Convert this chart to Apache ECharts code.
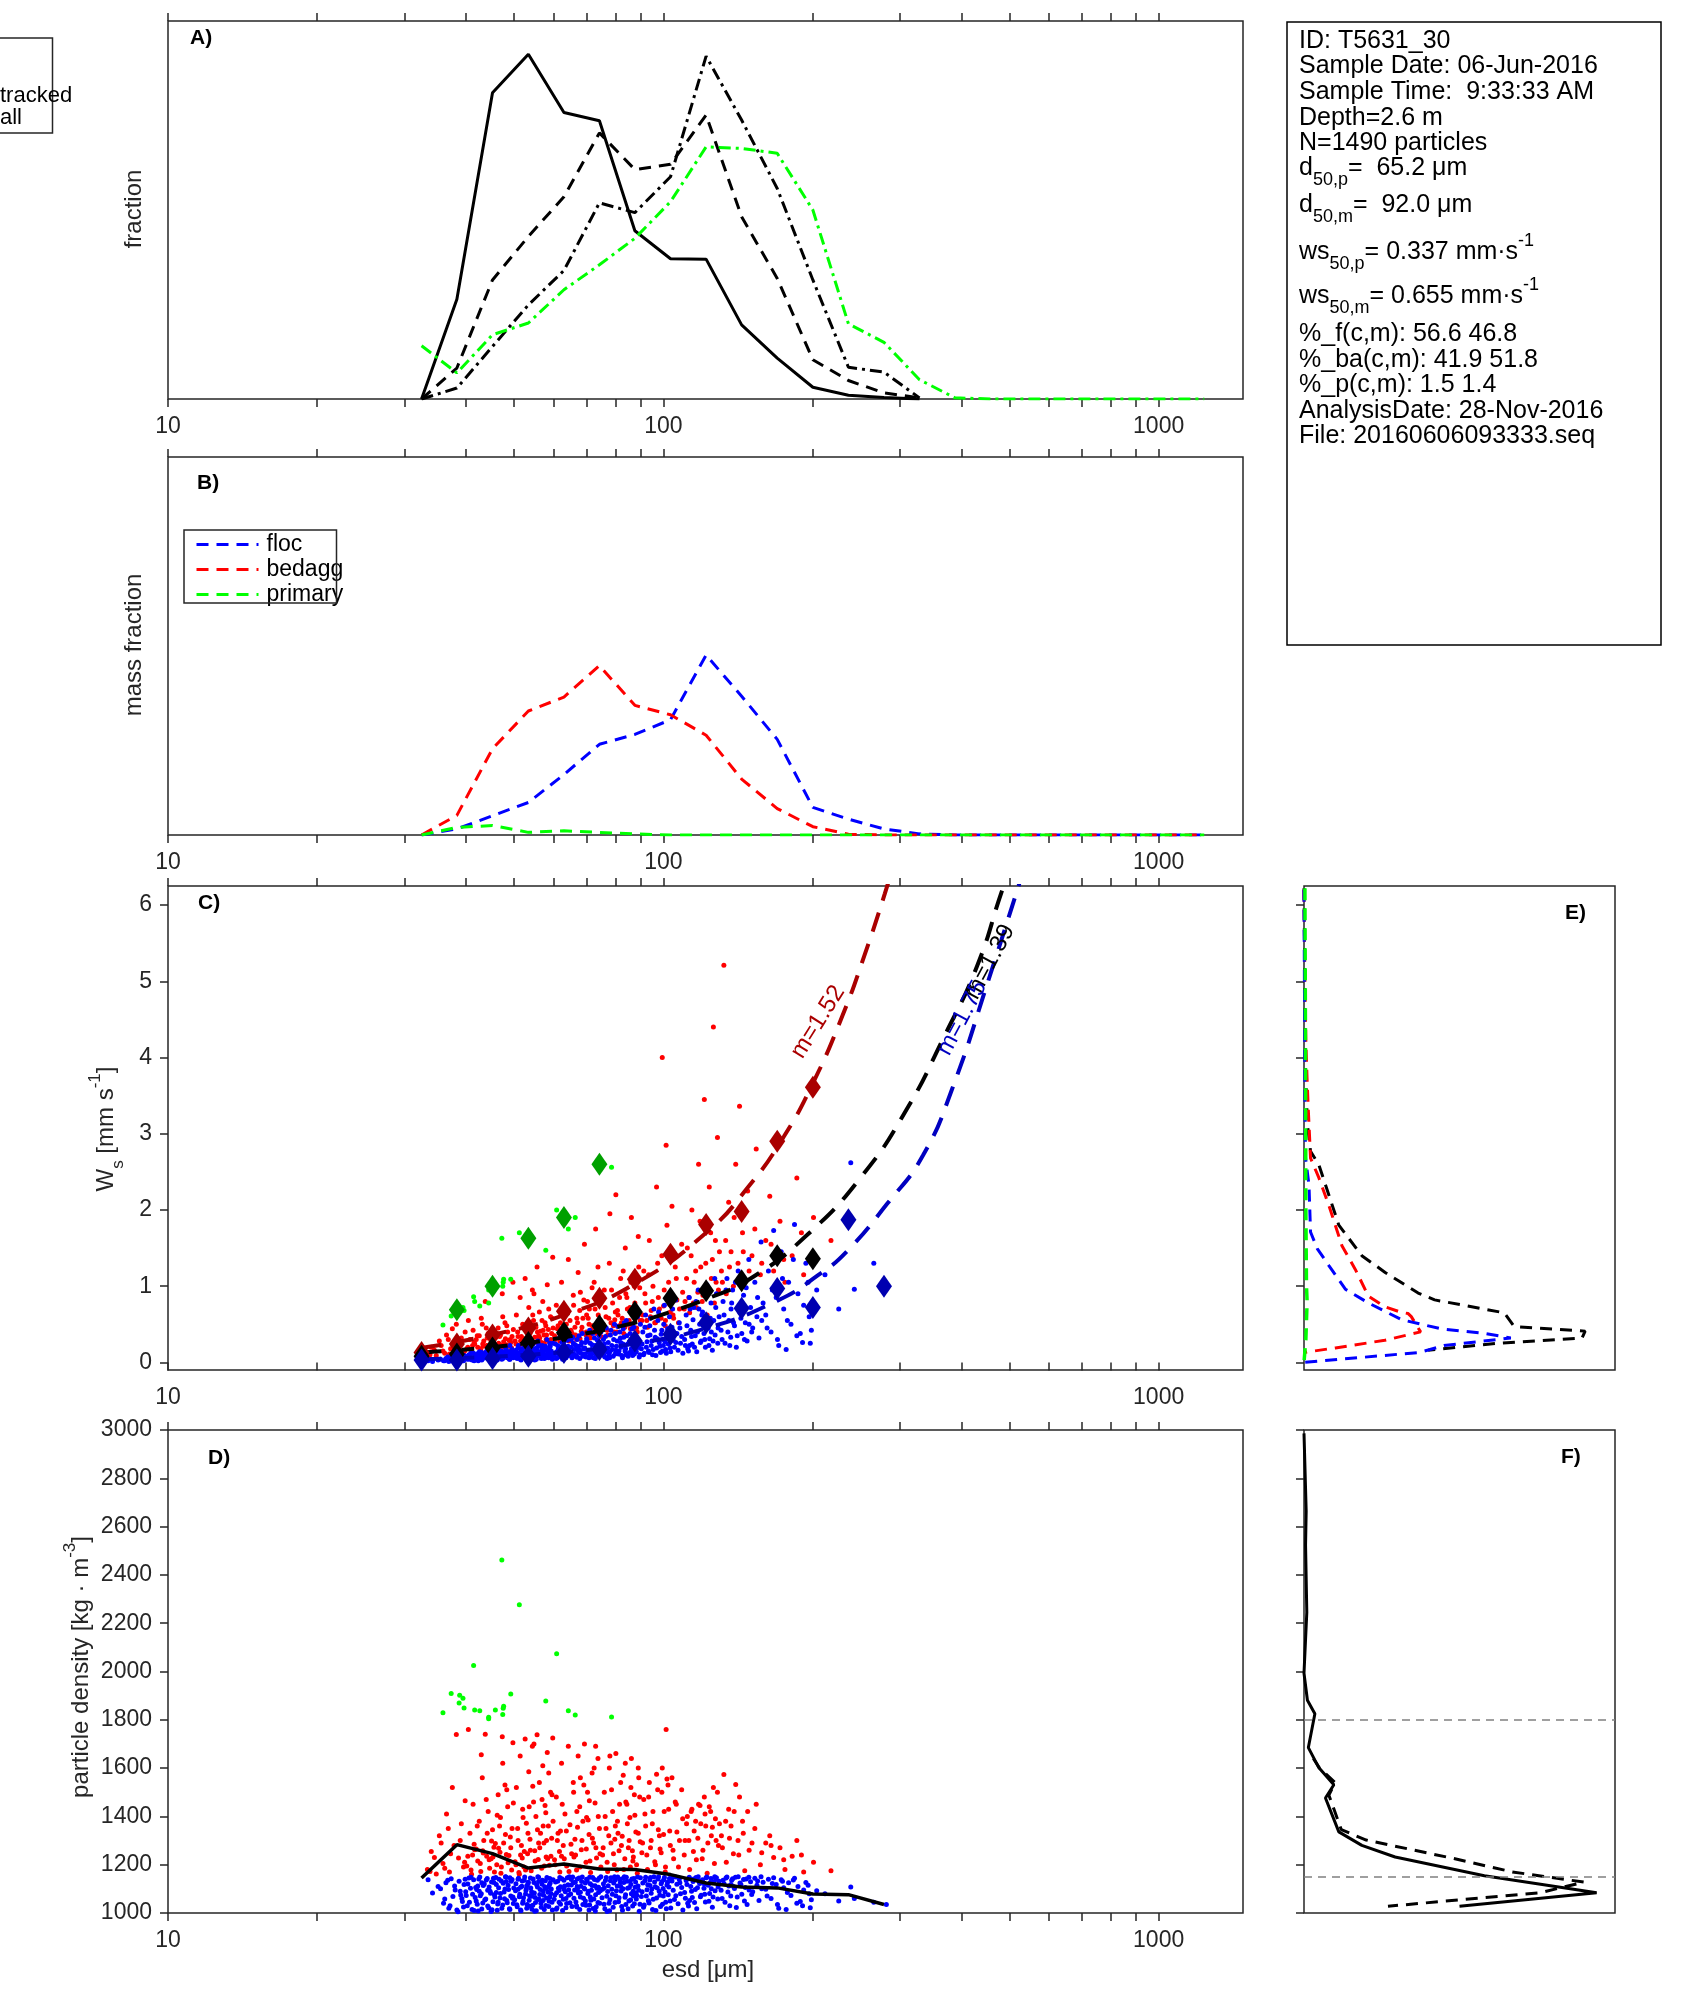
<!DOCTYPE html>
<html><head><meta charset="utf-8">
<script src="https://cdn.jsdelivr.net/npm/echarts@6/dist/echarts.min.js"></script>
<style>html,body{margin:0;padding:0;background:#fff}#c{width:1694px;height:2015px}</style>
</head><body><div id="c"></div>
<script>
// ---------------- DATA ----------------
const esdBins = [32.5, 38.3, 45.2, 53.4, 63.0, 74.3, 87.6, 103.4, 122.0, 143.9, 169.8, 200.4, 236.4, 278.9, 329, 388, 458, 541, 638, 752, 888, 1048, 1236];
const xTickValues = [10,20,30,40,50,60,70,80,90,100,200,300,400,500,600,700,800,900,1000];
const xLabelValues = [10,100,1000];
const wsTickValues = [0,1,2,3,4,5,6];

// Panel A (fraction)
const fracSolid   = [0, 0.264, 0.810, 0.912, 0.758, 0.736, 0.445, 0.371, 0.370, 0.196, 0.108, 0.031, 0.010, 0.004, 0];
const fracDash    = [0, 0.082, 0.315, 0.430, 0.535, 0.704, 0.607, 0.621, 0.751, 0.482, 0.319, 0.104, 0.049, 0.016, 0.003];
const fracDashDot = [0, 0.029, 0.139, 0.249, 0.340, 0.519, 0.493, 0.588, 0.907, 0.738, 0.557, 0.315, 0.084, 0.071, 0.003];
const fracGreen   = [0.141, 0.069, 0.170, 0.201, 0.289, 0.355, 0.425, 0.522, 0.667, 0.663, 0.650, 0.500, 0.199, 0.150, 0.051, 0.003, 0, 0, 0, 0, 0, 0, 0];

// Panel B (mass fraction)
const massFloc    = [0, 0.016, 0.051, 0.086, 0.160, 0.240, 0.266, 0.305, 0.476, 0.367, 0.253, 0.073, 0.042, 0.016, 0.003, 0, 0, 0, 0, 0, 0, 0, 0];
const massBedagg  = [0, 0.052, 0.228, 0.328, 0.365, 0.448, 0.343, 0.318, 0.264, 0.148, 0.070, 0.022, 0.002, 0, 0, 0, 0, 0, 0, 0, 0, 0, 0];
const massPrimary = [0, 0.020, 0.025, 0.007, 0.011, 0.007, 0.003, 0, 0, 0, 0, 0, 0, 0, 0, 0, 0, 0, 0, 0, 0, 0, 0];

// Panel C binned medians (ws, mm/s) per esd bin
const wsBinBedagg = [0.13, 0.24, 0.36, 0.45, 0.67, 0.84, 1.09, 1.42, 1.81, 1.98, 2.90, 3.61];
const wsBinAll    = [0.08, 0.11, 0.19, 0.26, 0.39, 0.48, 0.66, 0.84, 0.94, 1.07, 1.40, 1.36];
const wsBinFloc   = [0.03, 0.03, 0.05, 0.08, 0.13, 0.17, 0.28, 0.37, 0.52, 0.71, 0.97, 0.72, 1.87, 1.00];
const wsBinPrimary = [null, 0.69, 1.00, 1.63, 1.90, 2.60];

// Panel C fitted curves
const fitBedaggD  = [32.5, 45, 63, 87.6, 122, 150, 175, 200, 230, 255, 280, 300];
const fitBedaggWs = [0.19, 0.36, 0.62, 1.03, 1.70, 2.34, 2.96, 3.65, 4.55, 5.35, 6.15, 6.8];
const fitAllD     = [32.5, 45, 63, 87.6, 102, 122, 150, 195, 252, 310, 368, 430, 484, 510];
const fitAllWs    = [0.13, 0.20, 0.33, 0.52, 0.65, 0.83, 1.10, 1.67, 2.45, 3.32, 4.26, 5.20, 6.21, 6.6];
const fitFlocD    = [32.5, 45, 63, 87.6, 122, 170, 205, 235, 283, 334, 383, 452, 530];
const fitFlocWs   = [0.04, 0.074, 0.136, 0.247, 0.448, 0.81, 1.14, 1.46, 2.08, 2.71, 3.59, 4.99, 6.4];
const fitLabels   = ['m=1.52', 'm=1.39', 'm=1.75'];

// Panel D median density per bin
const rhoBinAll = [1145, 1283, 1246, 1186, 1203, 1182, 1180, 1159, 1124, 1108, 1104, 1079, 1076, 1035];

// Particles: [esd (um), ws (mm/s), density (kg/m3)]
const flocParticles = [
[33.5,0.02,1138],[34.2,0.01,1083],[35.1,0.03,1110],[36.0,0.02,1040],[36.4,0.05,1125],[36.9,0.01,1020],[37.3,0.06,1142],[37.6,0.03,1068],[38.0,0.04,1095],[38.3,0.02,1012],[38.7,0.08,1131],[39.0,0.05,1075],[39.3,0.03,1048],[39.6,0.09,1118],[39.9,0.06,1088],
[40.2,0.04,1030],[40.5,0.10,1145],[40.8,0.07,1102],[41.1,0.03,1015],[41.4,0.12,1138],[41.7,0.06,1064],[42.0,0.09,1097],[42.3,0.02,1008],[42.6,0.14,1149],[42.9,0.08,1080],[43.2,0.05,1041],[43.5,0.11,1120],[43.8,0.07,1058],[44.1,0.16,1143],[44.4,0.04,1022],[44.7,0.10,1090],[45.0,0.13,1128],[45.3,0.06,1047],[45.6,0.09,1076],[45.9,0.18,1147],[46.2,0.03,1011],[46.5,0.12,1105],[46.8,0.08,1062],[47.1,0.15,1133],[47.4,0.05,1033],[47.7,0.11,1087],[48.0,0.20,1150],[48.3,0.07,1052],[48.6,0.14,1115],[48.9,0.04,1018],[49.2,0.10,1070],[49.5,0.17,1139],[49.8,0.06,1039],[41.9,0.05,1050],[43.0,0.13,1125],[44.9,0.02,1006],[46.0,0.08,1085],[47.9,0.12,1099],[49.0,0.22,1146],[40.0,0.06,1072],[42.2,0.11,1112],[44.2,0.09,1094],[46.4,0.06,1044],[48.2,0.16,1130],[49.7,0.09,1066],
[50.1,0.08,1055],[50.4,0.16,1121],[50.7,0.05,1026],[51.0,0.22,1144],[51.3,0.11,1078],[51.6,0.03,1009],[51.9,0.18,1132],[52.2,0.09,1063],[52.5,0.26,1149],[52.8,0.13,1093],[53.1,0.06,1035],[53.4,0.20,1127],[53.7,0.10,1071],[54.0,0.15,1104],[54.3,0.04,1016],[54.6,0.24,1141],[54.9,0.12,1083],[55.2,0.07,1043],[55.5,0.19,1117],[55.8,0.28,1150],[56.1,0.09,1058],[56.4,0.14,1097],[56.7,0.05,1024],[57.0,0.22,1136],[57.3,0.11,1074],[57.6,0.17,1109],[57.9,0.06,1031],[58.2,0.30,1147],[58.5,0.13,1086],[58.8,0.08,1049],[59.1,0.21,1124],[59.4,0.15,1099],[59.7,0.04,1012],[50.9,0.12,1098],[52.0,0.07,1040],[53.0,0.17,1113],[54.2,0.10,1069],[55.0,0.03,1007],[56.0,0.21,1130],[57.2,0.08,1052],[58.0,0.16,1101],[59.0,0.11,1066],[59.9,0.25,1138],[51.5,0.14,1107],[53.8,0.05,1028],
[60.2,0.10,1057],[60.6,0.24,1128],[61.0,0.06,1021],[61.4,0.18,1102],[61.8,0.33,1147],[62.2,0.12,1071],[62.6,0.04,1010],[63.0,0.27,1136],[63.4,0.15,1088],[63.8,0.08,1039],[64.2,0.21,1117],[64.6,0.36,1150],[65.0,0.13,1079],[65.4,0.06,1027],[65.8,0.25,1125],[66.2,0.17,1095],[66.6,0.09,1046],[67.0,0.30,1141],[67.4,0.14,1083],[67.8,0.05,1014],[68.2,0.22,1111],[68.6,0.38,1149],[69.0,0.11,1061],[69.4,0.19,1099],[69.8,0.07,1032],[70.2,0.28,1133],[70.6,0.16,1090],[71.0,0.42,1148],[71.4,0.10,1053],[71.8,0.23,1114],[72.2,0.06,1019],[72.6,0.32,1139],[73.0,0.14,1076],[73.4,0.20,1103],[73.8,0.09,1043],[74.2,0.35,1144],[74.6,0.17,1092],[60.9,0.14,1084],[62.0,0.20,1109],[63.6,0.11,1060],[65.2,0.30,1139],[66.9,0.07,1025],[68.0,0.16,1086],[69.6,0.26,1124],[71.2,0.12,1066],[72.9,0.05,1008],[74.0,0.24,1107],[61.6,0.09,1045],[64.4,0.17,1096],[67.2,0.21,1106],
[75.2,0.13,1063],[75.7,0.30,1121],[76.2,0.07,1018],[76.7,0.45,1147],[77.2,0.19,1089],[77.7,0.10,1040],[78.2,0.36,1134],[78.7,0.22,1098],[79.2,0.08,1024],[79.7,0.50,1150],[80.2,0.16,1071],[80.7,0.28,1112],[81.2,0.11,1047],[81.7,0.40,1140],[82.2,0.20,1091],[82.7,0.06,1011],[83.2,0.33,1126],[83.7,0.15,1065],[84.2,0.55,1148],[84.7,0.24,1103],[85.2,0.12,1050],[85.7,0.38,1131],[86.2,0.18,1080],[86.7,0.09,1029],[87.2,0.46,1143],[87.7,0.27,1107],[88.2,0.14,1058],[88.7,0.60,1149],[89.2,0.21,1094],[89.7,0.10,1036],[76.0,0.24,1105],[78.0,0.14,1055],[80.0,0.38,1137],[82.0,0.26,1110],[84.0,0.10,1035],[86.0,0.30,1118],[88.0,0.20,1083],[77.0,0.05,1006],[83.0,0.44,1144],[87.0,0.16,1070],
[90.3,0.18,1068],[90.9,0.40,1124],[91.5,0.12,1033],[92.1,0.62,1148],[92.7,0.27,1096],[93.3,0.15,1051],[93.9,0.48,1137],[94.5,0.22,1082],[95.1,0.10,1015],[95.7,0.70,1150],[96.3,0.33,1109],[96.9,0.19,1062],[97.5,0.55,1141],[98.1,0.26,1090],[98.7,0.13,1027],[99.3,0.42,1129],[99.9,0.30,1101],[100.5,0.75,1147],[101.1,0.17,1045],[101.7,0.36,1116],[102.3,0.24,1076],[102.9,0.60,1143],[103.5,0.14,1021],[104.1,0.46,1132],[104.7,0.29,1094],[105.3,0.20,1056],[105.9,0.82,1149],[106.5,0.38,1119],[107.1,0.16,1038],[107.7,0.52,1139],[108.3,0.25,1080],[108.9,0.34,1106],[109.5,0.12,1012],[94.0,0.36,1114],[100.0,0.22,1070],
[110.4,0.30,1085],[111.2,0.62,1135],[112.0,0.18,1040],[112.8,0.85,1148],[113.6,0.42,1110],[114.4,0.24,1064],[115.2,0.72,1141],[116.0,0.35,1097],[116.8,0.14,1018],[117.6,0.95,1150],[118.4,0.50,1122],[119.2,0.28,1073],[120.0,0.66,1138],[120.8,0.38,1103],[121.6,0.20,1046],[122.4,1.02,1149],[123.2,0.45,1115],[124.0,0.31,1081],[124.8,0.78,1143],[125.6,0.16,1024],[126.4,0.55,1128],[127.2,0.36,1092],[128.0,0.90,1146],[128.8,0.25,1058],[129.6,0.60,1131],[113.0,0.22,1052],[118.0,0.70,1130],[121.0,0.52,1120],[125.0,0.40,1100],[127.0,1.10,1150],
[130.8,0.42,1094],[132.0,0.80,1136],[133.2,0.25,1044],[134.4,1.10,1149],[135.6,0.55,1112],[136.8,0.33,1070],[138.0,0.95,1142],[139.2,0.48,1101],[140.4,0.20,1023],[141.6,1.20,1150],[142.8,0.65,1124],[144.0,0.38,1078],[145.2,0.88,1139],[146.4,0.52,1106],[147.6,0.28,1035],[148.8,1.35,1148],[150.0,0.72,1129],[151.5,0.45,1088],[153.0,1.05,1144],[154.5,0.60,1115],[156.0,0.32,1052],[157.5,1.58,1150],[159.0,0.78,1127],[137.0,0.70,1118],[149.0,0.50,1095],
[161,0.62,1098],[163,1.20,1140],[165,0.40,1060],[167,1.73,1146],[169,0.85,1118],[171,0.22,1020],[173,1.45,1138],[175,0.70,1105],[177,0.17,1015],[179,1.05,1125],[181,0.50,1072],[184,1.81,1144],[187,0.90,1110],[189,0.38,1048],[191,0.26,1030],[194,1.30,1126],[197,0.60,1080],[199,0.42,1055],
[204,0.95,1092],[212,1.15,1080],[226,0.70,1050],[239,2.62,1108],[243,0.96,1060],[266,1.30,1045],[282,1.02,1035],
[35.5,0.04,1100],[36.2,0.02,1058],[36.7,0.07,1136],[37.1,0.03,1030],[37.9,0.05,1112],[38.5,0.01,1005],[38.9,0.06,1090],[39.2,0.04,1060],[39.5,0.02,1025],[39.8,0.08,1140],
[40.3,0.08,1120],[40.6,0.04,1045],[40.9,0.12,1148],[41.2,0.06,1078],[41.5,0.02,1010],[41.8,0.09,1106],[42.1,0.05,1036],[42.4,0.13,1141],[42.7,0.07,1071],[43.0,0.03,1017],[43.3,0.10,1114],[43.6,0.06,1054],[43.9,0.14,1137],[44.2,0.05,1029],[44.5,0.11,1108],[44.8,0.08,1082],[45.1,0.03,1013],[45.4,0.15,1144],[45.7,0.07,1066],[46.0,0.11,1118],[46.3,0.05,1037],[46.6,0.16,1140],[46.9,0.09,1081],[47.2,0.04,1020],[47.5,0.13,1123],[47.8,0.08,1059],[48.1,0.18,1149],[48.4,0.06,1042],[48.7,0.11,1097],[49.0,0.04,1014],[49.3,0.15,1131],[49.6,0.08,1061],[49.9,0.12,1104],[42.5,0.09,1090],[45.5,0.12,1126],
[50.3,0.11,1092],[50.6,0.06,1034],[50.9,0.19,1140],[51.2,0.09,1067],[51.5,0.04,1012],[51.8,0.14,1111],[52.1,0.08,1048],[52.4,0.20,1136],[52.7,0.10,1079],[53.0,0.05,1020],[53.3,0.16,1121],[53.6,0.08,1053],[53.9,0.22,1145],[54.2,0.12,1088],[54.5,0.06,1032],[54.8,0.18,1126],[55.1,0.10,1064],[55.4,0.04,1009],[55.7,0.15,1108],[56.0,0.24,1148],[56.3,0.11,1077],[56.6,0.07,1040],[56.9,0.18,1119],[57.2,0.12,1091],[57.5,0.05,1015],[57.8,0.21,1134],[58.1,0.10,1062],[58.4,0.16,1106],[58.7,0.06,1027],[59.0,0.25,1143],[59.3,0.12,1081],[59.6,0.08,1044],[52.9,0.13,1100],[55.9,0.09,1056],[58.9,0.19,1117],
[60.4,0.12,1075],[60.8,0.05,1016],[61.2,0.22,1131],[61.6,0.14,1093],[62.0,0.07,1036],[62.4,0.26,1142],[62.8,0.10,1057],[63.2,0.18,1112],[63.6,0.06,1022],[64.0,0.29,1146],[64.4,0.13,1074],[64.8,0.09,1042],[65.2,0.20,1116],[65.6,0.33,1149],[66.0,0.11,1061],[66.4,0.23,1127],[66.8,0.07,1030],[67.2,0.16,1091],[67.6,0.35,1145],[68.0,0.12,1066],[68.4,0.26,1130],[68.8,0.08,1035],[69.2,0.18,1102],[69.6,0.11,1050],[70.0,0.31,1140],[70.4,0.14,1081],[70.8,0.06,1012],[71.2,0.25,1121],[71.6,0.17,1094],[72.0,0.38,1147],[72.4,0.12,1058],[72.8,0.22,1113],[73.2,0.08,1026],[73.6,0.29,1136],[74.0,0.15,1085],[74.4,0.10,1040],[74.8,0.40,1150],[63.0,0.15,1098],[67.0,0.20,1110],[71.0,0.09,1033],
[75.4,0.20,1098],[75.9,0.09,1036],[76.4,0.34,1135],[76.9,0.14,1069],[77.4,0.26,1113],[77.9,0.06,1009],[78.4,0.42,1146],[78.9,0.17,1078],[79.4,0.30,1124],[79.9,0.11,1043],[80.4,0.21,1092],[80.9,0.47,1149],[81.4,0.15,1063],[81.9,0.32,1126],[82.4,0.09,1027],[82.9,0.24,1100],[83.4,0.52,1150],[83.9,0.18,1076],[84.4,0.35,1131],[84.9,0.08,1018],[85.4,0.27,1106],[85.9,0.14,1054],[86.4,0.44,1141],[86.9,0.22,1090],[87.4,0.11,1038],[87.9,0.36,1128],[88.4,0.19,1073],[88.9,0.28,1112],[89.4,0.07,1007],[89.9,0.50,1146],
[90.6,0.24,1088],[91.2,0.10,1024],[91.8,0.46,1134],[92.4,0.20,1070],[93.0,0.35,1117],[93.6,0.13,1041],[94.2,0.58,1147],[94.8,0.28,1099],[95.4,0.17,1057],[96.0,0.42,1128],[96.6,0.09,1010],[97.2,0.31,1104],[97.8,0.66,1150],[98.4,0.21,1073],[99.0,0.37,1121],[99.6,0.15,1036],[100.2,0.50,1138],[100.8,0.27,1087],[101.4,0.12,1018],[102.0,0.44,1127],[102.6,0.33,1108],[103.2,0.19,1050],[104.4,0.70,1148],[106.0,0.26,1071],[108.0,0.45,1125],
[110.8,0.22,1061],[111.6,0.48,1118],[112.4,0.15,1029],[113.2,0.70,1142],[114.0,0.34,1090],[114.8,0.56,1130],[115.6,0.20,1043],[116.4,0.80,1147],[117.2,0.40,1105],[118.8,0.26,1067],[119.6,0.62,1134],[121.2,0.30,1078],[122.0,0.88,1146],[123.6,0.22,1049],[124.4,0.58,1126],[126.0,0.28,1066],[127.6,0.72,1139],[129.0,0.45,1108],
[131.4,0.30,1060],[132.6,0.62,1121],[133.8,0.95,1145],[135.0,0.40,1087],[136.2,0.22,1030],[137.4,0.78,1136],[138.6,0.52,1110],[139.8,1.05,1148],[141.0,0.35,1066],[143.4,0.58,1118],[145.8,0.30,1050],[147.0,0.98,1141],[150.8,0.40,1077],[155.0,0.85,1133],[158.0,0.55,1100],
[162,0.45,1070],[166,0.95,1122],[170,0.30,1035],[174,1.10,1131],[178,0.55,1085],[183,1.35,1137],[186,0.35,1040],[192,0.75,1095],[196,1.05,1115],[198,0.25,1022]
];
const bedaggParticles = [
[33.4,0.12,1180],[34.0,0.20,1255],[34.8,0.09,1162],[35.3,0.28,1320],[35.9,0.15,1205],[36.5,0.36,1410],[37.0,0.11,1170],[37.5,0.44,1520],[37.8,0.22,1280],[38.2,0.50,1739],[38.6,0.17,1228],[39.1,0.32,1370],[39.5,0.13,1190],[39.8,0.40,1465],
[40.1,0.18,1195],[40.4,0.55,1760],[40.7,0.30,1330],[41.0,0.14,1160],[41.3,0.42,1450],[41.6,0.24,1262],[41.9,0.30,1265],[42.2,0.20,1215],[42.5,0.35,1380],[42.8,0.16,1172],[43.1,0.50,1560],[43.4,0.28,1300],[43.7,0.80,1740],[44.0,0.22,1235],[44.3,0.38,1420],[44.6,0.18,1185],[44.9,0.27,1225],[45.2,0.31,1345],[45.5,0.25,1272],[45.8,0.33,1288],[46.1,0.20,1200],[46.4,0.45,1490],[46.7,0.34,1360],[47.0,0.17,1165],[47.3,0.90,1730],[47.6,0.27,1290],[47.9,0.52,1530],[48.2,0.23,1242],[48.5,0.40,1440],[48.8,0.29,1238],[49.1,0.30,1315],[49.4,0.19,1178],[49.7,1.05,1705],[43.3,0.21,1248],[46.9,0.36,1395],
[50.2,0.28,1212],[50.5,0.62,1520],[50.8,0.40,1350],[51.1,0.22,1168],[51.4,0.85,1650],[51.7,0.34,1280],[52.0,0.50,1430],[52.3,0.26,1190],[52.6,1.10,1720],[52.9,0.44,1372],[53.2,0.31,1245],[53.5,0.72,1585],[53.8,0.38,1305],[54.1,0.24,1175],[54.4,0.95,1690],[54.7,0.55,1460],[55.0,0.33,1258],[55.3,0.46,1400],[55.6,1.25,1738],[55.9,0.29,1222],[56.2,0.66,1540],[56.5,0.41,1330],[56.8,0.26,1185],[57.1,0.80,1610],[57.4,0.36,1290],[57.7,0.52,1445],[58.0,0.30,1232],[58.3,1.02,1665],[58.6,0.43,1360],[58.9,0.27,1198],[59.2,0.60,1500],[59.5,0.38,1310],[59.8,1.38,1725],[51.9,0.30,1228],[57.9,0.48,1415],
[60.3,0.35,1220],[60.8,0.75,1480],[61.3,0.48,1330],[61.8,0.28,1170],[62.3,1.05,1620],[62.8,0.42,1280],[63.3,0.62,1410],[63.8,0.33,1195],[64.3,1.35,1690],[64.8,0.55,1365],[65.3,0.39,1245],[65.8,0.88,1540],[66.3,0.46,1305],[66.8,0.30,1178],[67.3,1.18,1650],[67.8,0.68,1440],[68.3,0.41,1262],[68.8,0.58,1380],[69.3,1.55,1700],[69.8,0.36,1210],[70.3,0.80,1500],[70.8,0.50,1325],[71.3,0.32,1168],[71.8,0.98,1580],[72.3,0.45,1290],[72.8,0.70,1455],[73.3,0.38,1228],[73.8,1.25,1640],[74.3,0.54,1350],[74.8,0.34,1190],[62.0,0.52,1340],[66.0,0.36,1232],[70.0,0.62,1395],[73.0,1.75,1690],[68.0,0.92,1560],
[75.4,0.45,1240],[76.0,0.95,1500],[76.6,0.60,1350],[77.2,0.36,1172],[77.8,1.30,1600],[78.4,0.52,1290],[79.0,0.78,1420],[79.6,0.40,1200],[80.2,2.20,1660],[80.8,0.68,1380],[81.4,0.48,1258],[82.0,1.10,1540],[82.6,0.58,1318],[83.2,0.38,1180],[83.8,1.50,1620],[84.4,0.85,1450],[85.0,0.50,1270],[85.6,0.72,1395],[86.2,1.90,1640],[86.8,0.44,1215],[87.4,1.00,1490],[88.0,0.62,1335],[88.6,0.40,1165],[89.2,1.25,1560],[89.8,0.55,1295],[78.0,1.95,1650],[81.0,0.62,1330],[84.0,0.90,1460],[87.0,0.46,1232],[89.0,1.65,1600],
[90.5,0.55,1250],[91.3,1.20,1470],[92.1,0.78,1360],[92.9,0.46,1180],[93.7,1.60,1540],[94.5,0.68,1300],[95.3,1.00,1420],[96.1,0.52,1212],[96.9,2.30,1575],[97.7,0.85,1345],[98.5,0.60,1265],[99.3,1.40,1500],[99.5,4.00,1600],[100.1,0.74,1325],[100.9,0.48,1170],[101.3,2.85,1760],[101.7,1.80,1555],[102.5,1.05,1430],[103.3,0.66,1280],[104.1,2.05,1560],[104.9,0.58,1225],[105.7,1.25,1460],[106.5,0.82,1335],[107.3,0.52,1190],[108.9,1.55,1510],
[110.6,0.80,1300],[111.8,1.50,1400],[113.0,0.65,1180],[114.2,2.00,1430],[115.4,1.05,1340],[116.6,0.72,1220],[117.8,2.60,1450],[119.0,1.25,1370],[120.2,0.88,1260],[121.4,1.75,1410],[122.6,0.62,1165],[123.8,2.30,1440],[125.0,1.10,1320],[126.2,4.40,1520],[126.8,0.78,1205],[127.4,1.60,1390],[128.6,2.95,1500],[129.2,0.95,1280],[121.0,3.45,1480],[125.6,1.35,1355],
[131.0,1.20,1320],[132.5,5.21,1573],[134.0,0.90,1210],[135.5,2.10,1430],[137.0,1.45,1360],[138.5,1.00,1245],[140.0,2.60,1532],[141.5,1.30,1300],[142.5,3.36,1480],[144.5,1.70,1380],[146.0,1.05,1175],[148.0,2.25,1420],[151.0,1.40,1290],[154.0,2.80,1450],[157.0,1.15,1200],
[161,1.60,1290],[164,2.18,1320],[167,1.20,1230],[172,1.85,1270],[176,1.05,1180],[182,1.40,1235],[186,2.42,1300],[192,1.15,1170],[201,1.90,1210],[218,1.60,1175],
[33.8,0.10,1172],[34.5,0.16,1230],[35.6,0.22,1290],[36.2,0.12,1185],[36.8,0.30,1350],[37.2,0.18,1245],[38.9,0.25,1300],[39.7,0.15,1210],
[40.3,0.20,1235],[40.9,0.15,1178],[41.5,0.26,1285],[42.1,0.35,1360],[42.7,0.18,1205],[43.2,0.24,1258],[43.9,0.45,1470],[44.5,0.20,1220],[45.0,0.28,1298],[45.6,0.17,1170],[46.2,0.38,1405],[46.8,0.23,1252],[47.4,0.60,1620],[48.0,0.31,1325],[48.6,0.21,1208],[49.2,0.26,1270],[49.8,0.43,1455],[41.2,0.22,1240],[44.1,0.32,1330],[47.1,0.19,1190],[49.5,0.34,1350],[42.9,0.58,1655],[45.3,0.21,1232],[48.3,0.48,1510],[46.5,0.25,1268],
[50.4,0.24,1200],[50.9,0.34,1300],[51.5,0.28,1240],[52.1,0.46,1395],[52.7,0.22,1178],[53.3,0.38,1330],[53.9,0.30,1260],[54.5,0.62,1525],[55.1,0.26,1215],[55.7,0.40,1345],[56.3,0.32,1270],[56.9,0.55,1470],[57.5,0.25,1195],[58.1,0.36,1300],[58.7,0.70,1580],[59.3,0.30,1235],[59.9,0.45,1380],[51.2,0.20,1160],[53.6,0.52,1440],[56.0,0.35,1290],[58.4,0.29,1225],[54.8,0.90,1700],[57.2,0.42,1360],[52.4,0.31,1255],[59.6,0.58,1490],
[60.5,0.30,1200],[61.1,0.44,1300],[61.7,0.38,1255],[62.5,0.65,1450],[63.1,0.34,1225],[63.7,0.50,1340],[64.5,0.28,1172],[65.1,0.42,1285],[65.9,0.75,1500],[66.5,0.36,1240],[67.1,0.52,1355],[67.9,0.31,1190],[68.5,0.46,1300],[69.1,0.82,1530],[69.9,0.40,1265],[70.5,0.58,1385],[71.1,0.35,1215],[71.9,0.48,1310],[72.5,1.05,1600],[73.1,0.42,1270],[73.9,0.62,1400],[74.5,0.39,1245],[62.3,0.36,1235],[66.9,0.58,1420],[70.9,0.70,1465],
[75.6,0.50,1270],[76.3,0.72,1400],[77.0,0.42,1210],[77.6,0.58,1320],[78.6,0.95,1510],[79.3,0.48,1245],[80.0,0.66,1360],[80.6,0.40,1178],[81.6,0.85,1450],[82.3,0.52,1280],[83.0,1.20,1570],[83.6,0.46,1225],[84.6,0.70,1370],[85.3,0.55,1300],[86.0,1.05,1520],[86.6,0.50,1258],[87.6,0.78,1405],[88.3,0.45,1200],[89.0,0.62,1330],[89.6,0.98,1480],[79.8,0.56,1305],[85.8,0.44,1190],
[90.8,0.62,1290],[91.8,0.90,1410],[92.6,0.55,1240],[93.4,1.15,1480],[94.2,0.60,1270],[95.0,0.80,1370],[96.4,0.52,1200],[97.4,1.30,1510],[98.2,0.70,1320],[99.0,0.58,1250],[100.4,0.95,1420],[101.0,0.55,1190],[102.2,1.45,1530],[103.0,0.76,1340],[104.6,0.62,1260],[106.2,1.10,1450],[107.8,0.70,1300],[109.4,0.92,1390],
[110.2,0.70,1240],[111.4,1.10,1370],[112.6,0.85,1300],[113.8,1.40,1420],[115.0,0.78,1255],[116.2,1.20,1380],[117.4,0.92,1310],[118.6,1.85,1445],[119.8,0.80,1225],[121.8,1.30,1360],[123.0,0.95,1290],[124.6,1.70,1420],[127.8,1.05,1300],[129.8,1.45,1370],
[131.6,1.05,1270],[133.6,1.60,1380],[136.0,1.25,1310],[139.0,1.90,1420],[142.0,1.10,1240],[145.0,1.45,1330],[149.0,1.20,1260],[153.0,1.75,1350],[158.0,1.30,1250],[165.0,1.55,1280],[175.0,1.35,1220],[190.0,1.70,1240]
];
const primaryParticles = [
[35.9,0.49,1829],[37.3,0.61,1909],[38.7,0.66,1870],[38.8,0.70,1902],[39.4,0.72,1889],[39.6,0.68,1849],[41.4,0.86,2025],[41.6,0.80,1841],[42.6,0.74,1837],[44.4,0.78,1811],[44.4,0.95,1804],[45.8,1.02,1841],[47.2,1.63,2462],[47.4,1.00,1822],[47.5,1.05,1848],[47.6,1.09,1856],[49.2,1.09,1907],[51.2,1.70,2276],[57.9,1.47,1878],[60.9,2.00,2074],[64.3,1.75,1837],[66.4,1.90,1820],[78.6,2.56,1812]
];

// Panel E: ws distributions [fraction, ws]
const profAllWs = [[0.0,6.22],[0.003,4.72],[0.005,3.83],[0.011,3.12],[0.021,2.77],[0.048,2.59],[0.069,2.33],[0.112,1.80],[0.186,1.40],[0.261,1.18],[0.367,0.91],[0.42,0.82],[0.644,0.65],[0.676,0.47],[0.904,0.41],[0.894,0.32],[0.622,0.25],[0.399,0.16]];
const profBedaggWs = [[0.0,6.2],[0.003,5.0],[0.006,4.2],[0.010,3.7],[0.014,3.3],[0.018,2.95],[0.021,2.68],[0.048,2.42],[0.08,2.06],[0.122,1.53],[0.165,1.22],[0.207,0.87],[0.26,0.73],[0.31,0.66],[0.335,0.64],[0.345,0.60],[0.375,0.40],[0.26,0.29],[0.101,0.19],[0.0,0.13]];
const profFlocWs = [[0.0,6.2],[0.003,3.5],[0.005,2.68],[0.016,2.33],[0.021,1.71],[0.043,1.49],[0.08,1.27],[0.133,0.96],[0.207,0.78],[0.314,0.56],[0.441,0.44],[0.58,0.38],[0.665,0.32],[0.45,0.22],[0.37,0.13],[0.0,0.0]];
const profPrimaryWs = [[0.003,6.22],[0.005,4.0],[0.006,2.0],[0.008,1.0],[0.010,0.8],[0.006,0.3],[0.0,0.0]];

// Panel F: density distributions [fraction, density]
const profRhoSolid = [[0,2986],[0.007,2664],[0.005,2524],[0.009,2245],[0,1993],[0.011,1881],[0.035,1825],[0.014,1685],[0.048,1601],[0.096,1531],[0.069,1476],[0.112,1336],[0.186,1280],[0.293,1232],[0.58,1154],[0.941,1084],[0.5,1028]];
const profRhoDash  = [[0.03,1640],[0.05,1600],[0.10,1540],[0.08,1488],[0.12,1345],[0.20,1302],[0.48,1226],[0.67,1170],[0.90,1128],[0.76,1084],[0.27,1028]];
const rhoRefLines = [1800, 1150];

// Text
const infoLines = [
 [['ID: T5631_30','n']],
 [['Sample Date: 06-Jun-2016','n']],
 [['Sample Time:  9:33:33 AM','n']],
 [['Depth=2.6 m','n']],
 [['N=1490 particles','n']],
 [['d','n'],['50,p','sub'],['=  65.2 \u03bcm','n']],
 [['d','n'],['50,m','sub'],['=  92.0 \u03bcm','n']],
 [['ws','n'],['50,p','sub'],['= 0.337 mm\u00b7s','n'],['-1','sup']],
 [['ws','n'],['50,m','sub'],['= 0.655 mm\u00b7s','n'],['-1','sup']],
 [['%_f(c,m): 56.6 46.8','n']],
 [['%_ba(c,m): 41.9 51.8','n']],
 [['%_p(c,m): 1.5 1.4','n']],
 [['AnalysisDate: 28-Nov-2016','n']],
 [['File: 20160606093333.seq','n']]
];
const legendB = ['floc','bedagg','primary'];
const legendTop = ['tracked','all'];
const panelTags = ['A)','B)','C)','D)','E)','F)'];

// ---------------- CHART ----------------
const FONT = '"Liberation Sans", Arial, Helvetica, sans-serif';
const AX = '#262626';
const chart = echarts.init(document.getElementById('c'), null, {renderer:'canvas'});
const mctx = document.createElement('canvas').getContext('2d');
function tw(t, fs, fw){ mctx.font = (fw||'normal') + ' ' + fs + 'px ' + FONT; return mctx.measureText(t).width; }
function txt(x, y, s, fs, o){ o = o||{}; return {type:'text', x:x, y:y, rotation:o.rot||0, z:100, silent:true,
  style:{text:s, fill:o.color||'#000', fontSize:fs, fontFamily:FONT, fontWeight:o.weight||'normal',
  align:o.align||'left', verticalAlign:o.va||'middle', textAlign:o.align||'left', textVerticalAlign:o.va||'middle'}}; }
function partEls(parts, fs, x0, y0, color){
  const els=[]; let cx=x0;
  parts.forEach(function(p){ const k=p[1]; const s = k==='n'?fs:Math.round(fs*0.72);
    const dy = k==='sub'? fs*0.5 : (k==='sup'? -fs*0.45 : 0);
    els.push(txt(cx, y0+dy, p[0], s, {color:color})); cx += tw(p[0], s); });
  return {els:els, w:cx-x0};
}
function rotName(cx, cy, parts, fs){
  const tmp = partEls(parts, fs, 0, 0, AX);
  const r = partEls(parts, fs, -tmp.w/2, 0, AX);
  return {type:'group', x:cx, y:cy, rotation:Math.PI/2, children:r.els};
}

function logX(gi, pos, labels){
  return {type:'log', logBase:10, gridIndex:gi, position:pos, min:10, max:1480,
    axisLine:{show:false}, splitLine:{show:false}, minorTick:{show:false},
    axisTick:{show:true, inside:false, length:8, customValues:xTickValues, lineStyle:{color:AX, width:1.5}},
    axisLabel: labels ? {show:true, customValues:xLabelValues, formatter:function(v){return String(Math.round(v));}, fontSize:23, fontFamily:FONT, color:AX, margin:16} : {show:false}};
}
function plainY(gi, mn, mx){ return {type:'value', gridIndex:gi, min:mn, max:mx, axisLine:{show:false}, axisTick:{show:false}, axisLabel:{show:false}, splitLine:{show:false}}; }
const gridBase = {show:true, borderColor:AX, borderWidth:1.5, backgroundColor:'rgba(0,0,0,0)', containLabel:false};
function G(l,t,w,h){ return Object.assign({left:l, top:t, width:w, height:h}, gridBase); }

function binLine(vals){ return vals.map(function(v,i){ return [esdBins[i], v]; }); }
function pairs(xs, ys){ return xs.map(function(x,i){ return [x, ys[i]]; }); }
function L(name, data, xi, yi, color, width, type, extra){
  return Object.assign({type:'line', name:name, data:data, xAxisIndex:xi, yAxisIndex:yi, symbol:'none', showSymbol:false, silent:true,
    lineStyle:{color:color, width:width, type:type}, itemStyle:{color:color}, z:3}, extra||{});
}
function S(name, data, xi, yi, ydim, color, size, z){
  return {type:'scatter', name:name, data:data, xAxisIndex:xi, yAxisIndex:yi, encode:{x:0, y:ydim}, symbol:'circle', symbolSize:size, silent:true,
    large:false, itemStyle:{color:color, opacity:1}, z:z};
}
function D(name, vals, color){
  const d=[]; vals.forEach(function(v,i){ if(v!==null) d.push([esdBins[i], v]); });
  return {type:'scatter', name:name, data:d, xAxisIndex:4, yAxisIndex:2, symbol:'diamond', symbolSize:[16,23], silent:true, itemStyle:{color:color, opacity:1}, z:6};
}
const DASH=[12,8], DASHDOT=[12,5,3,5], LONGDASH=[20,13];

const graphics = [];
// info box
graphics.push({type:'rect', shape:{x:1287, y:22, width:374, height:623}, style:{fill:'none', stroke:'#000', lineWidth:1.5}, silent:true});
const infoY = [41, 66.6, 92.2, 117.8, 143.4, 168, 205, 252, 296, 334, 360, 385.5, 411, 436.6];
infoLines.forEach(function(parts, i){ partEls(parts, 25, 1299, infoY[i], '#000').els.forEach(function(e){ graphics.push(e); }); });
// partially visible legend at top-left
graphics.push({type:'rect', shape:{x:-30, y:38, width:82.5, height:95}, style:{fill:'#fff', stroke:AX, lineWidth:1.5}, silent:true, z:90});
graphics.push(txt(0, 96, legendTop[0], 22, {color:'#000'}));
graphics.push(txt(0, 118, legendTop[1], 22, {color:'#000'}));
// legend box of panel B
graphics.push({type:'rect', shape:{x:184, y:530, width:152.5, height:73}, style:{fill:'none', stroke:AX, lineWidth:1.5}, silent:true, z:90});
// panel tags
const tagPos = [[190,38],[197,483],[198,903],[208,1458],[1565,913],[1561,1457]];
panelTags.forEach(function(t,i){ graphics.push(txt(tagPos[i][0], tagPos[i][1], t, 21, {weight:'bold', color:'#000'})); });
// axis names
graphics.push(txt(134, 209, 'fraction', 24, {rot:Math.PI/2, align:'center', color:AX}));
graphics.push(txt(134, 645, 'mass fraction', 24, {rot:Math.PI/2, align:'center', color:AX}));
graphics.push(rotName(106, 1129, [['W','n'],['s','sub'],[' [mm s','n'],['-1','sup'],[']','n']], 24));
graphics.push(rotName(81, 1667, [['particle density [kg \u00b7 m','n'],['-3','sup'],[']','n']], 24));
graphics.push(txt(708, 1970, 'esd [\u03bcm]', 24, {align:'center', color:AX}));
// fit labels
graphics.push(txt(818, 1022, fitLabels[0], 24, {rot:58*Math.PI/180, align:'center', color:'#aa0000'}));
graphics.push(txt(990, 962, fitLabels[1], 24, {rot:62*Math.PI/180, align:'center', color:'#000'}));
graphics.push(txt(962, 1018, fitLabels[2], 24, {rot:62*Math.PI/180, align:'center', color:'#0000c0'}));

const option = {
  animation:false,
  backgroundColor:'#fff',
  textStyle:{fontFamily:FONT},
  grid:[ G(168,21,1075,378), G(168,457,1075,378), G(168,886,1075,484), G(168,1430,1075,483), G(1304,886,311,484), G(1304,1430,311,483) ],
  xAxis:[ logX(0,'bottom',true), logX(0,'top',false), logX(1,'bottom',true), logX(1,'top',false),
          logX(2,'bottom',true), logX(2,'top',false), logX(3,'bottom',true), logX(3,'top',false),
          {type:'value', gridIndex:4, min:0, max:1, axisLine:{show:false}, axisTick:{show:false}, axisLabel:{show:false}, splitLine:{show:false}},
          {type:'value', gridIndex:5, min:0, max:1, axisLine:{show:false}, axisTick:{show:false}, axisLabel:{show:false}, splitLine:{show:false}} ],
  yAxis:[ plainY(0,0,1), plainY(1,0,1),
    {type:'value', gridIndex:2, min:-0.1, max:6.25, axisLine:{show:false}, splitLine:{show:false},
      axisTick:{show:true, length:8, customValues:wsTickValues, lineStyle:{color:AX, width:1.5}},
      axisLabel:{show:true, customValues:wsTickValues, fontSize:23, fontFamily:FONT, color:AX, margin:16}},
    {type:'value', gridIndex:3, min:1000, max:3000, interval:200, axisLine:{show:false}, splitLine:{show:false},
      axisTick:{show:true, length:8, lineStyle:{color:AX, width:1.5}},
      axisLabel:{show:true, formatter:function(v){return String(v);}, fontSize:23, fontFamily:FONT, color:AX, margin:16}},
    {type:'value', gridIndex:4, position:'right', min:-0.1, max:6.25, axisLine:{show:false}, splitLine:{show:false}, axisLabel:{show:false},
      axisTick:{show:true, inside:true, length:8, customValues:wsTickValues, lineStyle:{color:AX, width:1.5}}},
    {type:'value', gridIndex:5, position:'right', min:1000, max:3000, interval:200, axisLine:{show:false}, splitLine:{show:false}, axisLabel:{show:false},
      axisTick:{show:true, inside:true, length:8, lineStyle:{color:AX, width:1.5}}} ],
  legend:{show:true, data:legendB, orient:'vertical', left:195, top:533, itemWidth:62, itemHeight:20, itemGap:2, padding:0,
    itemStyle:{opacity:0, borderWidth:0}, lineStyle:{width:3},
    textStyle:{fontSize:23, fontFamily:FONT, color:'#000', padding:[0,0,0,3]}, selectedMode:false},
  graphic:graphics,
  series:[
    // A
    L('A solid', binLine(fracSolid), 0, 0, '#000', 3, 'solid'),
    L('A dash', binLine(fracDash), 0, 0, '#000', 3, DASH),
    L('A dashdot', binLine(fracDashDot), 0, 0, '#000', 3, DASHDOT),
    L('A green', binLine(fracGreen), 0, 0, '#00ff00', 3, DASHDOT),
    // B
    L('floc', binLine(massFloc), 2, 1, '#0000ff', 3, DASH),
    L('bedagg', binLine(massBedagg), 2, 1, '#ff0000', 3, DASH),
    L('primary', binLine(massPrimary), 2, 1, '#00ff00', 3, DASH),
    // C scatter
    S('bedagg ws', bedaggParticles, 4, 2, 1, '#ff0000', 5, 1),
    S('floc ws', flocParticles, 4, 2, 1, '#0000ff', 5, 2),
    S('primary ws', primaryParticles, 4, 2, 1, '#00ff00', 5, 2),
    // C fits
    L('fit bedagg', pairs(fitBedaggD, fitBedaggWs), 4, 2, '#aa0000', 4, LONGDASH, {smooth:true, z:4}),
    L('fit all', pairs(fitAllD, fitAllWs), 4, 2, '#000000', 4, LONGDASH, {smooth:true, z:4}),
    L('fit floc', pairs(fitFlocD, fitFlocWs), 4, 2, '#0000c0', 4, LONGDASH, {smooth:true, z:4}),
    // C medians
    D('median bedagg', wsBinBedagg, '#aa0000'),
    D('median all', wsBinAll, '#000000'),
    D('median floc', wsBinFloc, '#0000b0'),
    D('median primary', wsBinPrimary, '#00a000'),
    // D scatter
    S('bedagg rho', bedaggParticles, 6, 3, 2, '#ff0000', 5, 1),
    S('floc rho', flocParticles, 6, 3, 2, '#0000ff', 5, 2),
    S('primary rho', primaryParticles, 6, 3, 2, '#00ff00', 5, 2),
    L('median density', binLine(rhoBinAll), 6, 3, '#000', 3.5, 'solid', {z:5}),
    // E
    L('E all', profAllWs, 8, 4, '#000', 3, DASH),
    L('E bedagg', profBedaggWs, 8, 4, '#ff0000', 3, DASH),
    L('E floc', profFlocWs, 8, 4, '#0000ff', 3, DASH),
    L('E primary', profPrimaryWs, 8, 4, '#00ff00', 3.5, DASH),
    // F
    L('F solid', profRhoSolid, 9, 5, '#000', 3, 'solid', {markLine:{silent:true, symbol:'none', label:{show:false},
      lineStyle:{color:'#808080', type:[8,6], width:1.5}, data:rhoRefLines.map(function(v){return {yAxis:v};})}}),
    L('F dash', profRhoDash, 9, 5, '#000', 3, DASH)
  ]
};
chart.setOption(option);
</script>
</body></html>
